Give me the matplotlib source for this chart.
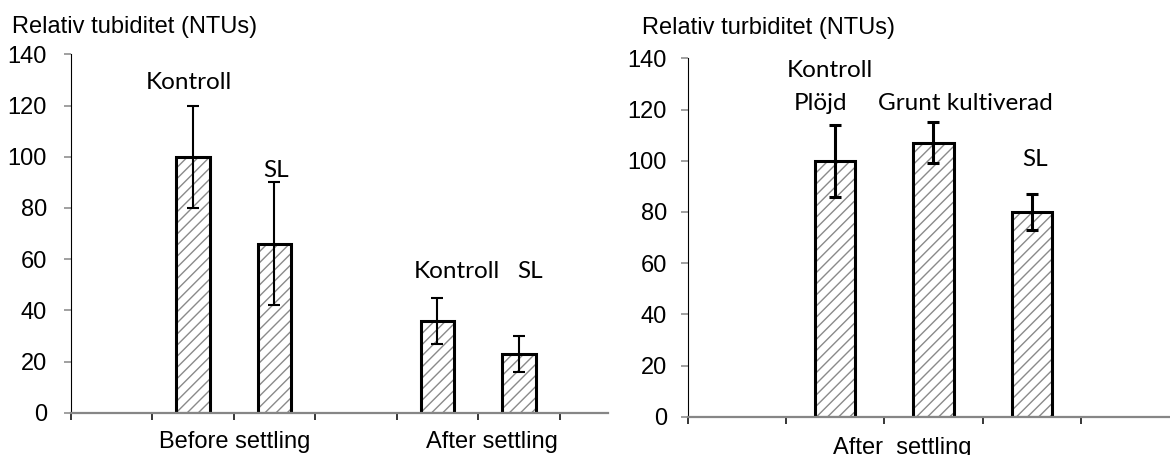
import matplotlib.pyplot as plt
import numpy as np

# left panel: before / after settling
left_pos = [1.5, 2.5, 4.5, 5.5]
left_vals = [100, 66, 36, 23]
left_lo = [80, 42, 27, 16]
left_hi = [120, 90, 45, 30]
left_names = ["Kontroll", "SL", "Kontroll", "SL"]

# right panel: after settling, three treatments
right_pos = [1.5, 2.5, 3.5]
right_vals = [100, 107, 80]
right_lo = [86, 99, 73]
right_hi = [114, 115, 87]
right_names = ["Plöjd", "Grunt kultiverad", "SL"]

W, H = 1170, 455
fig = plt.figure(figsize=(W / 100, H / 100), dpi=100)
arial = "Liberation Sans"
calibri = "Lato"


def panel(rect, xmax, pos, vals, lo, hi, elw, ylabel_txt, ylabel_xy, pad):
    ax = fig.add_axes(rect)
    ax.bar(pos, vals, width=0.41, color="white", hatch="///", edgecolor="#8a8a8a", linewidth=0)
    ax.bar(pos, vals, width=0.41, fill=False, edgecolor="black", linewidth=2.2)
    yerr = [np.array(vals) - np.array(lo), np.array(hi) - np.array(vals)]
    ax.errorbar(pos, vals, yerr=yerr, fmt="none", ecolor="black", elinewidth=elw,
                capsize=4.5, capthick=elw)
    ax.set_xlim(0, xmax)
    ax.set_ylim(0, 140)
    ax.set_yticks(range(0, 141, 20))
    ax.set_xticks(np.arange(0, int(xmax) + 1))
    ax.set_xticklabels([])
    for s in ["top", "right"]:
        ax.spines[s].set_visible(False)
    ax.spines["left"].set_color("black")
    ax.spines["left"].set_linewidth(0.8)
    ax.spines["bottom"].set_color("#868686")
    ax.spines["bottom"].set_linewidth(1.6)
    ax.tick_params(axis="y", direction="out", length=5, width=1.1, color="#868686",
                   labelsize=17, pad=pad)
    ax.tick_params(axis="x", direction="out", length=5, width=1.1, color="black")
    for t in ax.get_yticklabels():
        t.set_fontfamily(arial)
    fig.text(ylabel_xy[0] / W, 1 - ylabel_xy[1] / H, ylabel_txt, fontsize=17,
             family=arial, va="center", ha="left")
    return ax


axl = panel([70.7 / W, (H - 412.7) / H, (608 - 70.7) / W, (412.7 - 54.3) / H],
            (608 - 70.7) / 81.5, left_pos, left_vals, left_lo, left_hi, 1.5,
            "Relativ tubiditet (NTUs)", (12, 27), 12)
axr = panel([687.7 / W, (H - 416.7) / H, (W - 687.7) / W, (416.7 - 58.3) / H],
            (W - 687.7) / 98.3, right_pos, right_vals, right_lo, right_hi, 2.2,
            "Relativ turbiditet (NTUs)", (642, 28), 10)

# bar labels
lab_left = [(1.45, 128.8), (2.52, 94.5), (4.74, 55), (5.64, 55)]
for name, (x, y) in zip(left_names, lab_left):
    axl.text(x, y, name, fontsize=17.5, family=calibri, ha="center", va="center")
axr.text(1.45, 135.4, "Kontroll", fontsize=17.5, family=calibri, ha="center", va="center")
lab_right = [(1.35, 122.5), (2.82, 122.5), (3.53, 100.3)]
for name, (x, y) in zip(right_names, lab_right):
    axr.text(x, y, name, fontsize=17.5, family=calibri, ha="center", va="center")

# group labels under the axes
fig.text(235 / W, 1 - 442 / H, "Before settling", fontsize=17, family=arial, ha="center", va="center")
fig.text(492 / W, 1 - 442 / H, "After settling", fontsize=17, family=arial, ha="center", va="center")
fig.text(902 / W, 1 - 437 / H, "After  settling", fontsize=17, family=arial, ha="center", va="top")

fig.savefig("out.png", dpi=100)
